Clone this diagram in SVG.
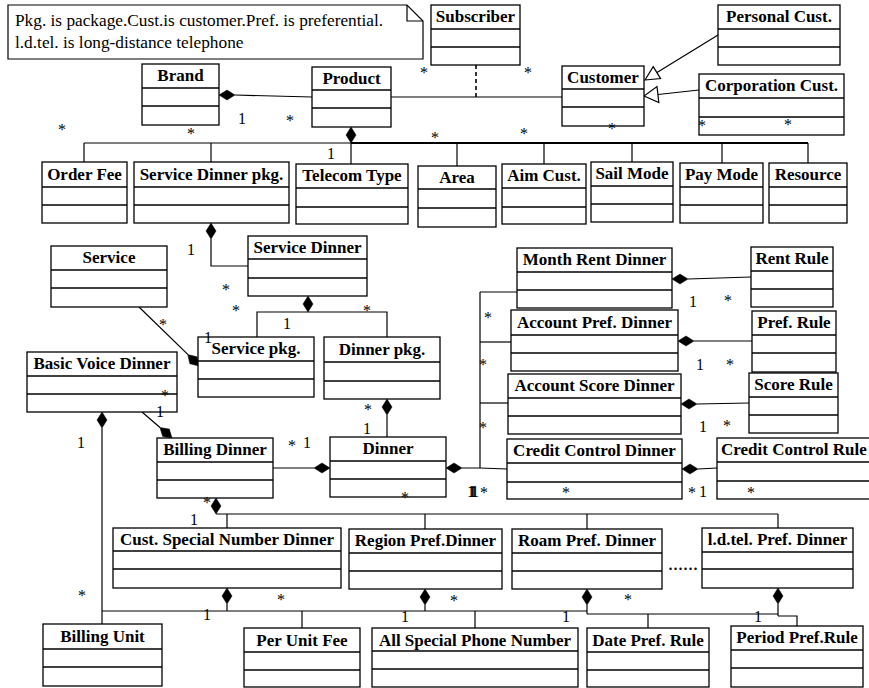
<svg xmlns="http://www.w3.org/2000/svg" width="869" height="688" viewBox="0 0 869 688">
<style>
.box rect{fill:#fff;stroke:#000;stroke-width:1.3}
.box line{stroke:#000;stroke-width:1.3}
.t{font-family:"Liberation Serif","Times New Roman",serif;font-weight:bold;font-size:17px;text-anchor:middle;fill:#000}
.m{font-family:"Liberation Serif","Times New Roman",serif;font-size:16px;text-anchor:middle;fill:#000}
.n{font-family:"Liberation Serif","Times New Roman",serif;font-size:17.3px;fill:#000}
#connectors line,#connectors path,#connectors polyline{stroke:#000;stroke-width:1.2;fill:none}
#connectors .d{fill:#000;stroke:#000;stroke-width:0.5}
#connectors .g{fill:#fff;stroke:#000;stroke-width:1.2}
</style>
<rect x="0" y="0" width="869" height="688" fill="#fff"/>
<g id="note">
<path d="M8,5 H407 L423,21 V59 H8 Z" fill="#fff" stroke="#000" stroke-width="1.2"/>
<path d="M407,5 V21 H423" fill="none" stroke="#000" stroke-width="1.2"/>
<text class="n" x="15" y="26">Pkg. is package.Cust.is customer.Pref. is preferential.</text>
<text class="n" x="15" y="48">l.d.tel. is long-distance telephone</text>
</g>
<g id="connectors">
<line x1="235" y1="95" x2="312" y2="97"/>
<polygon class="d" points="219,95 227,90 235,95 227,100"/>
<line x1="391" y1="97" x2="562" y2="97"/>
<line x1="476" y1="65" x2="476" y2="97" stroke-dasharray="4,3" style="stroke-width:1.6"/>
<line x1="718" y1="35" x2="657" y2="72.6"/>
<polygon class="g" points="645,80 660.6,78.6 653.2,66.6"/>
<line x1="699" y1="90" x2="658" y2="94.5"/>
<polygon class="g" points="644,96 658.8,102.5 657,86.5"/>
<polygon class="d" points="351,127 356,135 351,143 346,135"/>
<line x1="84" y1="143" x2="351" y2="143"/>
<line x1="351" y1="143" x2="808" y2="143" style="stroke-width:2"/>
<line x1="84" y1="143" x2="84" y2="162"/>
<line x1="211" y1="143" x2="211" y2="162"/>
<line x1="351" y1="143" x2="351" y2="164"/>
<line x1="457" y1="143" x2="457" y2="166"/>
<line x1="544" y1="143" x2="544" y2="164"/>
<line x1="632" y1="143" x2="632" y2="162"/>
<line x1="722" y1="143" x2="722" y2="163"/>
<line x1="808" y1="143" x2="808" y2="163"/>
<polygon class="d" points="211,223 216,231 211,239 206,231"/>
<polyline points="211,239 211,266 248,266"/>
<polygon class="d" points="308,296 313,304 308,312 303,304"/>
<polyline points="257,337 257,312 387,312 387,337"/>
<line x1="139" y1="307" x2="188" y2="354.6"/>
<polygon class="d" points="199,366 189.8,363.8 187.8,354.6 197,356.8"/>
<line x1="142" y1="412" x2="160" y2="427.5"/>
<polygon class="d" points="172,438 162.7,436.6 159.9,427.5 169.3,429"/>
<polygon class="d" points="102,412 107,420 102,428 97,420"/>
<line x1="102" y1="428" x2="102" y2="624"/>
<line x1="273" y1="468" x2="314" y2="468"/>
<polygon class="d" points="314,468 322,463 330,468 322,473"/>
<polygon class="d" points="387,399 392,407 387,415 382,407"/>
<line x1="387" y1="415" x2="387" y2="437"/>
<polygon class="d" points="446,468 454,463 462,468 454,473"/>
<polyline points="462,468 480,468 507,469"/>
<line x1="480" y1="292" x2="480" y2="468"/>
<line x1="480" y1="292" x2="517" y2="292"/>
<line x1="480" y1="342" x2="511" y2="342"/>
<line x1="480" y1="403" x2="508" y2="403"/>
<polygon class="d" points="672,279 680,274 688,279 680,284"/>
<line x1="688" y1="279" x2="751" y2="277"/>
<polygon class="d" points="678,341 686,336 694,341 686,346"/>
<line x1="694" y1="341" x2="752" y2="341"/>
<polygon class="d" points="681,404 689,399 697,404 689,409"/>
<line x1="697" y1="404" x2="749" y2="403"/>
<polygon class="d" points="682,469 690,464 698,469 690,474"/>
<line x1="698" y1="469" x2="717" y2="468"/>
<polygon class="d" points="216,498 221,506 216,514 211,506"/>
<line x1="216" y1="514" x2="778" y2="514"/>
<line x1="227" y1="514" x2="227" y2="528"/>
<line x1="425" y1="514" x2="425" y2="529"/>
<line x1="587" y1="514" x2="587" y2="529"/>
<line x1="778" y1="514" x2="778" y2="528"/>
<polygon class="d" points="227,588 232,596 227,604 222,596"/>
<polygon class="d" points="425,589 430,597 425,605 420,597"/>
<polygon class="d" points="587,589 592,597 587,605 582,597"/>
<polygon class="d" points="778,588 783,596 778,604 773,596"/>
<line x1="227" y1="604" x2="227" y2="611"/>
<line x1="425" y1="605" x2="425" y2="611"/>
<line x1="587" y1="605" x2="587" y2="614"/>
<line x1="778" y1="604" x2="778" y2="616"/>
<line x1="102" y1="611" x2="587" y2="611"/>
<line x1="587" y1="614" x2="778" y2="614"/>
<polyline points="778,616 797,616 797,626"/>
<line x1="302" y1="611" x2="302" y2="628"/>
<line x1="475" y1="611" x2="475" y2="628"/>
<line x1="648" y1="614" x2="648" y2="628"/>
</g>
<g id="subscriber" class="box"><rect x="431" y="5" width="89" height="60"/><line x1="431" y1="29" x2="520" y2="29"/><line x1="431" y1="47" x2="520" y2="47"/><text class="t" x="475.5" y="22">Subscriber</text></g>
<g id="personal-cust" class="box"><rect x="718" y="5" width="122" height="60"/><line x1="718" y1="29" x2="840" y2="29"/><line x1="718" y1="47" x2="840" y2="47"/><text class="t" x="779" y="22">Personal Cust.</text></g>
<g id="customer" class="box"><rect x="562" y="66" width="82" height="60"/><line x1="562" y1="89" x2="644" y2="89"/><line x1="562" y1="107" x2="644" y2="107"/><text class="t" x="603" y="83">Customer</text></g>
<g id="corporation-cust" class="box"><rect x="699" y="74" width="145" height="61"/><line x1="699" y1="98" x2="844" y2="98"/><line x1="699" y1="117" x2="844" y2="117"/><text class="t" x="771.5" y="91">Corporation Cust.</text></g>
<g id="brand" class="box"><rect x="142" y="64" width="77" height="61"/><line x1="142" y1="88" x2="219" y2="88"/><line x1="142" y1="106" x2="219" y2="106"/><text class="t" x="180.5" y="81">Brand</text></g>
<g id="product" class="box"><rect x="312" y="67" width="79" height="60"/><line x1="312" y1="90" x2="391" y2="90"/><line x1="312" y1="108" x2="391" y2="108"/><text class="t" x="351.5" y="84">Product</text></g>
<g id="order-fee" class="box"><rect x="42" y="162" width="85" height="61"/><line x1="42" y1="187" x2="127" y2="187"/><line x1="42" y1="205" x2="127" y2="205"/><text class="t" x="84.5" y="180">Order Fee</text></g>
<g id="service-dinner-pkg" class="box"><rect x="134" y="162" width="155" height="61"/><line x1="134" y1="187" x2="289" y2="187"/><line x1="134" y1="205" x2="289" y2="205"/><text class="t" x="211.5" y="180">Service Dinner pkg.</text></g>
<g id="telecom-type" class="box"><rect x="296" y="164" width="112" height="60"/><line x1="296" y1="188" x2="408" y2="188"/><line x1="296" y1="207" x2="408" y2="207"/><text class="t" x="352" y="181">Telecom Type</text></g>
<g id="area" class="box"><rect x="418" y="166" width="78" height="61"/><line x1="418" y1="189" x2="496" y2="189"/><line x1="418" y1="208" x2="496" y2="208"/><text class="t" x="457" y="183">Area</text></g>
<g id="aim-cust" class="box"><rect x="502" y="164" width="84" height="60"/><line x1="502" y1="188" x2="586" y2="188"/><line x1="502" y1="207" x2="586" y2="207"/><text class="t" x="544" y="181">Aim Cust.</text></g>
<g id="sail-mode" class="box"><rect x="591" y="162" width="82" height="60"/><line x1="591" y1="186" x2="673" y2="186"/><line x1="591" y1="204" x2="673" y2="204"/><text class="t" x="632" y="179">Sail Mode</text></g>
<g id="pay-mode" class="box"><rect x="680" y="163" width="83" height="60"/><line x1="680" y1="187" x2="763" y2="187"/><line x1="680" y1="205" x2="763" y2="205"/><text class="t" x="721.5" y="180">Pay Mode</text></g>
<g id="resource" class="box"><rect x="769" y="163" width="78" height="60"/><line x1="769" y1="187" x2="847" y2="187"/><line x1="769" y1="205" x2="847" y2="205"/><text class="t" x="808" y="180">Resource</text></g>
<g id="service-dinner" class="box"><rect x="248" y="236" width="119" height="60"/><line x1="248" y1="259" x2="367" y2="259"/><line x1="248" y1="278" x2="367" y2="278"/><text class="t" x="307.5" y="253">Service Dinner</text></g>
<g id="service" class="box"><rect x="51" y="246" width="116" height="61"/><line x1="51" y1="270" x2="167" y2="270"/><line x1="51" y1="288" x2="167" y2="288"/><text class="t" x="109" y="263">Service</text></g>
<g id="service-pkg" class="box"><rect x="198" y="337" width="116" height="60"/><line x1="198" y1="361" x2="314" y2="361"/><line x1="198" y1="379" x2="314" y2="379"/><text class="t" x="256" y="354">Service pkg.</text></g>
<g id="dinner-pkg" class="box"><rect x="324" y="337" width="116" height="62"/><line x1="324" y1="362" x2="440" y2="362"/><line x1="324" y1="381" x2="440" y2="381"/><text class="t" x="382" y="355">Dinner pkg.</text></g>
<g id="basic-voice-dinner" class="box"><rect x="27" y="352" width="150" height="60"/><line x1="27" y1="376" x2="177" y2="376"/><line x1="27" y1="394" x2="177" y2="394"/><text class="t" x="102" y="369">Basic Voice Dinner</text></g>
<g id="billing-dinner" class="box"><rect x="157" y="438" width="116" height="60"/><line x1="157" y1="462" x2="273" y2="462"/><line x1="157" y1="480" x2="273" y2="480"/><text class="t" x="215" y="455">Billing Dinner</text></g>
<g id="dinner" class="box"><rect x="330" y="437" width="116" height="60"/><line x1="330" y1="461" x2="446" y2="461"/><line x1="330" y1="479" x2="446" y2="479"/><text class="t" x="388" y="454">Dinner</text></g>
<g id="month-rent-dinner" class="box"><rect x="517" y="248" width="155" height="60"/><line x1="517" y1="272" x2="672" y2="272"/><line x1="517" y1="290" x2="672" y2="290"/><text class="t" x="594.5" y="265">Month Rent Dinner</text></g>
<g id="account-pref-dinner" class="box"><rect x="511" y="310" width="167" height="61"/><line x1="511" y1="335" x2="678" y2="335"/><line x1="511" y1="353" x2="678" y2="353"/><text class="t" x="594.5" y="328">Account Pref. Dinner</text></g>
<g id="account-score-dinner" class="box"><rect x="508" y="374" width="173" height="60"/><line x1="508" y1="398" x2="681" y2="398"/><line x1="508" y1="416" x2="681" y2="416"/><text class="t" x="594.5" y="391">Account Score Dinner</text></g>
<g id="credit-control-dinner" class="box"><rect x="507" y="439" width="175" height="60"/><line x1="507" y1="463" x2="682" y2="463"/><line x1="507" y1="482" x2="682" y2="482"/><text class="t" x="594.5" y="456">Credit Control Dinner</text></g>
<g id="rent-rule" class="box"><rect x="751" y="247" width="82" height="60"/><line x1="751" y1="271" x2="833" y2="271"/><line x1="751" y1="289" x2="833" y2="289"/><text class="t" x="792" y="264">Rent Rule</text></g>
<g id="pref-rule" class="box"><rect x="752" y="311" width="84" height="61"/><line x1="752" y1="335" x2="836" y2="335"/><line x1="752" y1="353" x2="836" y2="353"/><text class="t" x="794" y="328">Pref. Rule</text></g>
<g id="score-rule" class="box"><rect x="749" y="373" width="89" height="60"/><line x1="749" y1="397" x2="838" y2="397"/><line x1="749" y1="415" x2="838" y2="415"/><text class="t" x="793.5" y="390">Score Rule</text></g>
<g id="credit-control-rule" class="box"><rect x="717" y="438" width="165" height="61"/><line x1="717" y1="462" x2="882" y2="462"/><line x1="717" y1="481" x2="882" y2="481"/><text class="t" x="721" y="455" style="text-anchor:start">Credit Control Rule</text></g>
<g id="cust-special-number-dinner" class="box"><rect x="113" y="528" width="228" height="60"/><line x1="113" y1="551" x2="341" y2="551"/><line x1="113" y1="569" x2="341" y2="569"/><text class="t" x="227" y="545">Cust. Special Number Dinner</text></g>
<g id="region-pref-dinner" class="box"><rect x="349" y="529" width="153" height="60"/><line x1="349" y1="553" x2="502" y2="553"/><line x1="349" y1="571" x2="502" y2="571"/><text class="t" x="425.5" y="546">Region Pref.Dinner</text></g>
<g id="roam-pref-dinner" class="box"><rect x="512" y="529" width="150" height="60"/><line x1="512" y1="553" x2="662" y2="553"/><line x1="512" y1="571" x2="662" y2="571"/><text class="t" x="587" y="546">Roam Pref. Dinner</text></g>
<g id="ldtel-pref-dinner" class="box"><rect x="702" y="528" width="151" height="60"/><line x1="702" y1="552" x2="853" y2="552"/><line x1="702" y1="569" x2="853" y2="569"/><text class="t" x="777.5" y="545">l.d.tel. Pref. Dinner</text></g>
<g id="billing-unit" class="box"><rect x="43" y="624" width="119" height="62"/><line x1="43" y1="649" x2="162" y2="649"/><line x1="43" y1="667" x2="162" y2="667"/><text class="t" x="102.5" y="642">Billing Unit</text></g>
<g id="per-unit-fee" class="box"><rect x="244" y="628" width="116" height="59"/><line x1="244" y1="652" x2="360" y2="652"/><line x1="244" y1="670" x2="360" y2="670"/><text class="t" x="302" y="646">Per Unit Fee</text></g>
<g id="all-special-phone-number" class="box"><rect x="372" y="628" width="206" height="59"/><line x1="372" y1="651" x2="578" y2="651"/><line x1="372" y1="669" x2="578" y2="669"/><text class="t" x="475" y="646">All Special Phone Number</text></g>
<g id="date-pref-rule" class="box"><rect x="587" y="628" width="122" height="59"/><line x1="587" y1="652" x2="709" y2="652"/><line x1="587" y1="670" x2="709" y2="670"/><text class="t" x="648" y="646">Date Pref. Rule</text></g>
<g id="period-pref-rule" class="box"><rect x="731" y="626" width="132" height="61"/><line x1="731" y1="650" x2="863" y2="650"/><line x1="731" y1="668" x2="863" y2="668"/><text class="t" x="797" y="643">Period Pref.Rule</text></g>
<g id="labels">
<text class="m" x="62" y="135">*</text>
<text class="m" x="191" y="139">*</text>
<text class="m" x="242" y="124">1</text>
<text class="m" x="290" y="126">*</text>
<text class="m" x="424" y="78">*</text>
<text class="m" x="528" y="78">*</text>
<text class="m" x="435" y="143">*</text>
<text class="m" x="524" y="139">*</text>
<text class="m" x="612" y="134">*</text>
<text class="m" x="702" y="131">*</text>
<text class="m" x="788" y="130">*</text>
<text class="m" x="331" y="159">1</text>
<text class="m" x="191" y="255">1</text>
<text class="m" x="226" y="295">*</text>
<text class="m" x="236" y="316">*</text>
<text class="m" x="287" y="329">1</text>
<text class="m" x="367" y="316">*</text>
<text class="m" x="163" y="330">*</text>
<text class="m" x="208" y="343">1</text>
<text class="m" x="165" y="401">*</text>
<text class="m" x="160" y="417">1</text>
<text class="m" x="81" y="448">1</text>
<text class="m" x="292" y="451">*</text>
<text class="m" x="307" y="448">1</text>
<text class="m" x="368" y="415">*</text>
<text class="m" x="367" y="434">1</text>
<text class="m" x="405" y="503">*</text>
<text class="m" x="488" y="323">*</text>
<text class="m" x="483" y="370">*</text>
<text class="m" x="483" y="433">*</text>
<text class="m" x="470" y="497" style="letter-spacing:-6px">1111</text>
<text class="m" x="484" y="498">*</text>
<text class="m" x="566" y="498">*</text>
<text class="m" x="693" y="307">1</text>
<text class="m" x="728" y="306">*</text>
<text class="m" x="700" y="370">1</text>
<text class="m" x="730" y="370">*</text>
<text class="m" x="703" y="432">1</text>
<text class="m" x="727" y="431">*</text>
<text class="m" x="692" y="498">*</text>
<text class="m" x="703" y="497">1</text>
<text class="m" x="751" y="498">*</text>
<text class="m" x="207" y="508">*</text>
<text class="m" x="194" y="525">1</text>
<text class="m" x="82" y="601">*</text>
<text class="m" x="207" y="620">1</text>
<text class="m" x="281" y="605">*</text>
<text class="m" x="454" y="606">*</text>
<text class="m" x="405" y="622">1</text>
<text class="m" x="566" y="622">1</text>
<text class="m" x="628" y="605">*</text>
<text class="m" x="758" y="622">1</text>
<text class="m" x="683" y="570" style="font-size:20px">......</text>
</g>
</svg>
